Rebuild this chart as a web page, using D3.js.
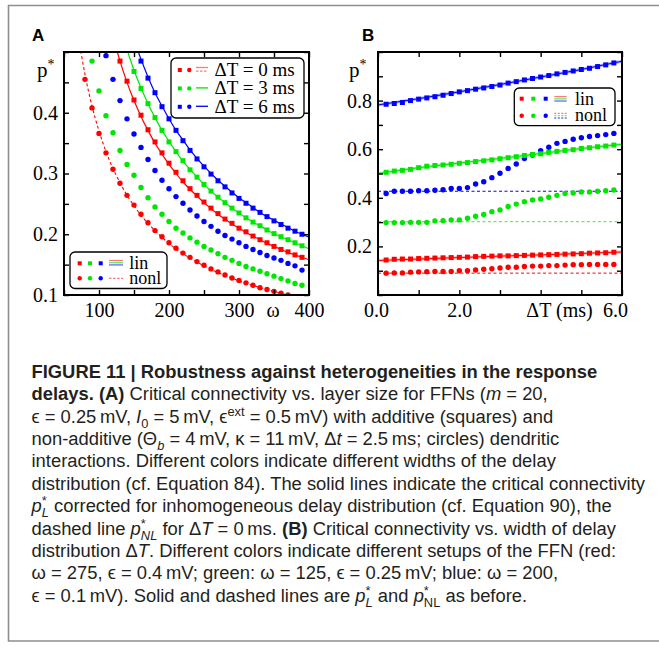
<!DOCTYPE html>
<html><head><meta charset="utf-8">
<script src="https://cdn.jsdelivr.net/npm/d3@7"></script>
<style>body{margin:0;background:#fff}svg{display:block}</style>
</head><body>
<svg id="fig" width="659" height="652"></svg>
<script>
// ---------------- Panel A data (omega vs p*) ----------------
const wLinRed   = [130,140,150,160,170,180,190,200,210,220,230,240,250,260,270,280,290,300,310,320,330,340,350,360,370,380,390];
const pLinRed   = [0.485,0.452,0.421,0.396,0.372,0.352,0.334,0.317,0.302,0.288,0.275,0.264,0.253,0.243,0.234,0.225,0.218,0.210,0.204,0.197,0.191,0.186,0.180,0.175,0.171,0.166,0.162];
const wLinGreen = [150,160,170,180,190,200,210,220,230,240,250,260,270,280,290,300,310,320,330,340,350,360,370,380,390];
const pLinGreen = [0.468,0.440,0.415,0.392,0.371,0.352,0.336,0.321,0.306,0.294,0.282,0.271,0.261,0.252,0.243,0.235,0.227,0.220,0.214,0.207,0.201,0.196,0.191,0.186,0.181];
const wLinBlue  = [160,170,180,190,200,210,220,230,240,250,260,270,280,290,300,310,320,330,340,350,360,370,380,390];
const pLinBlue  = [0.485,0.457,0.433,0.410,0.390,0.371,0.354,0.338,0.324,0.311,0.299,0.288,0.278,0.268,0.259,0.251,0.243,0.236,0.229,0.222,0.216,0.210,0.205,0.200];
const wNonRed   = [80,90,100,110,120,130,140,150,160,170,180,190,200,210,220,230,240,250,260,270,280,290,300,310,320,330,340,350,360,370];
const pNonRed   = [0.455,0.408,0.366,0.334,0.307,0.284,0.264,0.248,0.233,0.219,0.206,0.196,0.186,0.177,0.169,0.162,0.155,0.149,0.143,0.138,0.133,0.128,0.124,0.120,0.116,0.112,0.109,0.106,0.103,0.100];
const wNonGreen = [90,100,110,120,130,140,150,160,170,180,190,200,210,220,230,240,250,260,270,280,290,300,310,320,330,340,350,360,370,380,390];
const pNonGreen = [0.485,0.436,0.395,0.367,0.338,0.315,0.297,0.277,0.260,0.245,0.233,0.221,0.210,0.202,0.194,0.187,0.180,0.174,0.168,0.162,0.157,0.152,0.147,0.143,0.139,0.135,0.131,0.127,0.123,0.119,0.116];
const wNonBlue  = [110,120,130,140,150,160,170,180,190,200,210,220,230,240,250,260,270,280,290,300,310,320,330,340,350,360,370,380,390];
const pNonBlue  = [0.494,0.455,0.420,0.390,0.365,0.343,0.323,0.305,0.289,0.275,0.262,0.251,0.240,0.230,0.221,0.213,0.205,0.198,0.192,0.186,0.180,0.175,0.170,0.165,0.161,0.157,0.152,0.148,0.141];
// theory curves, panel A
const wCurveRed   = [120,130,140,150,160,170,180,190,200,210,220,230,240,250,260,270,280,290,300,310,320,330,340,350,360,370,380,390,400];
const pCurveRed   = [0.525,0.485,0.450,0.420,0.394,0.371,0.350,0.332,0.315,0.300,0.286,0.274,0.263,0.252,0.242,0.233,0.225,0.217,0.210,0.203,0.197,0.191,0.185,0.180,0.175,0.170,0.166,0.162,0.158];
const wCurveGreen = [140,150,160,170,180,190,200,210,220,230,240,250,260,270,280,290,300,310,320,330,340,350,360,370,380,390,400];
const pCurveGreen = [0.504,0.470,0.441,0.415,0.392,0.371,0.353,0.336,0.320,0.307,0.294,0.282,0.271,0.261,0.252,0.243,0.235,0.227,0.220,0.214,0.207,0.201,0.196,0.191,0.186,0.181,0.176];
const wCurveBlue  = [150,160,170,180,190,200,210,220,230,240,250,260,270,280,290,300,310,320,330,340,350,360,370,380,390,400];
const pCurveBlue  = [0.520,0.488,0.459,0.433,0.411,0.390,0.371,0.355,0.339,0.325,0.312,0.300,0.289,0.279,0.269,0.260,0.252,0.244,0.236,0.229,0.223,0.217,0.211,0.205,0.200,0.195];
const wCurveNonl  = [70,80,90,100,110,120,130,140,150,160,170,180,190,200,210,220,230,240,250,260,270,280,290,300,310,320,330,340,350,360,370,380];
const pCurveNonl  = [0.529,0.463,0.411,0.370,0.336,0.308,0.285,0.264,0.247,0.231,0.218,0.206,0.195,0.185,0.176,0.168,0.161,0.154,0.148,0.142,0.137,0.132,0.128,0.123,0.119,0.116,0.112,0.109,0.106,0.103,0.100,0.097];
const xTicksA  = [50,100,150,200,250,300,350,400];
const xLabelsA = ["","100","","200","","300","","400"];
const yTicksA  = [0.1,0.15,0.2,0.25,0.3,0.35,0.4,0.45,0.5];
const yLabelsA = ["0.1","","0.2","","0.3","","0.4","",""];

// ---------------- Panel B data (Delta T vs p*) ----------------
const dtB = [0.2,0.4,0.6,0.8,1.0,1.2,1.4,1.6,1.8,2.0,2.2,2.4,2.6,2.8,3.0,3.2,3.4,3.6,3.8,4.0,4.2,4.4,4.6,4.8,5.0,5.2,5.4,5.6,5.8];
const bLinRed   = [0.144,0.147,0.148,0.148,0.150,0.151,0.152,0.153,0.154,0.155,0.156,0.158,0.159,0.160,0.161,0.161,0.162,0.163,0.164,0.165,0.166,0.167,0.168,0.169,0.170,0.172,0.173,0.174,0.176];
const bNonRed   = [0.090,0.091,0.091,0.094,0.095,0.096,0.097,0.097,0.097,0.100,0.100,0.103,0.106,0.108,0.111,0.114,0.114,0.117,0.119,0.119,0.121,0.121,0.123,0.125,0.125,0.126,0.126,0.126,0.126];
const bLinGreen = [0.505,0.510,0.513,0.517,0.524,0.530,0.533,0.535,0.538,0.542,0.545,0.549,0.552,0.556,0.561,0.565,0.569,0.574,0.578,0.581,0.587,0.591,0.595,0.598,0.603,0.606,0.610,0.613,0.617];
const bNonGreen = [0.298,0.298,0.298,0.299,0.299,0.299,0.305,0.306,0.309,0.309,0.316,0.324,0.331,0.343,0.350,0.364,0.374,0.384,0.391,0.395,0.402,0.410,0.418,0.420,0.424,0.424,0.427,0.429,0.432];
const bLinBlue  = [0.785,0.788,0.792,0.800,0.806,0.811,0.816,0.822,0.829,0.836,0.841,0.847,0.852,0.858,0.864,0.872,0.878,0.885,0.891,0.897,0.903,0.910,0.916,0.922,0.928,0.933,0.940,0.947,0.955];
const bNonBlue  = [0.418,0.427,0.427,0.427,0.429,0.429,0.431,0.433,0.438,0.438,0.442,0.457,0.466,0.483,0.501,0.521,0.539,0.562,0.576,0.594,0.608,0.624,0.632,0.641,0.647,0.652,0.656,0.660,0.665];
const dtCurve   = [0,1,2,3,4,5,6];
const cLinRed   = [0.142,0.148,0.154,0.160,0.165,0.171,0.177];
const cLinGreen = [0.500,0.524,0.543,0.562,0.582,0.603,0.620];
const cLinBlue  = [0.782,0.808,0.836,0.866,0.897,0.928,0.962];
const dtFlat    = [0,6];
const cNonRed   = [0.090,0.090];
const cNonGreen = [0.302,0.302];
const cNonBlue  = [0.427,0.427];
const xTicksB  = [0,1,2,3,4,5,6];
const xLabelsB = ["0.0","","2.0","","","","6.0"];
const yTicksB  = [0,0.1,0.2,0.3,0.4,0.5,0.6,0.7,0.8,0.9,1.0];
const yLabelsB = ["","","0.2","","0.4","","0.6","","0.8","",""];

// ---------------- Caption ----------------
// kinds: n normal, b bold, i italic, sup, sub, subi (italic sub), *Back = placed under the preceding superscript
const caption = [
  [["b","FIGURE 11 | Robustness against heterogeneities in the response"]],
  [["b","delays. (A)"],["n"," Critical connectivity vs. layer size for FFNs ("],["i","m"],["n"," = 20,"]],
  [["n","\u03f5 = 0.25\u2009mV, "],["i","I"],["sub","0"],["n"," = 5\u2009mV, \u03f5"],["sup","ext"],["n"," = 0.5\u2009mV) with additive (squares) and"]],
  [["n","non-additive (\u0398"],["subi","b"],["n"," = 4\u2009mV, \u03ba = 11\u2009mV, \u0394"],["i","t"],["n"," = 2.5\u2009ms; circles) dendritic"]],
  [["n","interactions. Different colors indicate different widths of the delay"]],
  [["n","distribution (cf. Equation 84). The solid lines indicate the critical connectivity"]],
  [["i","p"],["sup","*"],["subiBack","L"],["n"," corrected for inhomogeneous delay distribution (cf. Equation 90), the"]],
  [["n","dashed line "],["i","p"],["sup","*"],["subiBack","NL"],["n"," for \u0394"],["i","T"],["n"," = 0\u2009ms. "],["b","(B)"],["n"," Critical connectivity vs. width of delay"]],
  [["n","distribution \u0394"],["i","T"],["n",". Different colors indicate different setups of the FFN (red:"]],
  [["n","\u03c9 = 275, \u03f5 = 0.4\u2009mV; green: \u03c9 = 125, \u03f5 = 0.25\u2009mV; blue: \u03c9 = 200,"]],
  [["n","\u03f5 = 0.1\u2009mV). Solid and dashed lines are "],["i","p"],["sup","*"],["subiBack","L"],["n"," and "],["i","p"],["sup","*"],["subBack","NL"],["n","  as before."]]
];

const RED = "#ff0000", GREEN = "#00e600", BLUE = "#0000ff";
const LRED = "#ff7a7a", LGREEN = "#66ee66", LBLUE = "#6a6aff";
const SERIF = "'Liberation Serif','Times New Roman',serif";
const SANS = "'Liberation Sans',Arial,sans-serif";

const svg = d3.select("#fig");
svg.append("rect").attr("width",659).attr("height",652).attr("fill","#fff");
// outer frame
svg.append("path").attr("d","M659,5.5 H8.5 V641 H659").attr("fill","none").attr("stroke","#8e8e8e").attr("stroke-width",1.6);

function drawAxes(g, x, y, xt, xl, yt, yl) {
  const st = sel => { sel.select(".domain").remove();
    sel.selectAll(".tick line").attr("stroke","#000").attr("stroke-width",1.4);
    sel.selectAll("text").attr("font-family",SERIF).attr("font-size",20).attr("fill","#000"); };
  const [x0,x1] = x.range(), [y0,y1] = y.range();
  g.append("g").attr("transform",`translate(0,${y0})`).call(d3.axisBottom(x).tickValues(xt).tickSize(-5).tickPadding(8).tickFormat((d,i)=>xl[i])).call(st);
  g.append("g").attr("transform",`translate(0,${y1})`).call(d3.axisTop(x).tickValues(xt).tickSize(-5).tickFormat("")).call(st);
  g.append("g").attr("transform",`translate(${x0},0)`).call(d3.axisLeft(y).tickValues(yt).tickSize(-5).tickPadding(6).tickFormat((d,i)=>yl[i])).call(st);
  g.append("g").attr("transform",`translate(${x1},0)`).call(d3.axisRight(y).tickValues(yt).tickSize(-5).tickFormat("")).call(st);
  g.append("rect").attr("x",x0).attr("y",y1).attr("width",x1-x0).attr("height",y0-y1)
    .attr("fill","none").attr("stroke","#000").attr("stroke-width",2);
}
function clip(id, x, y) {
  const [x0,x1] = x.range(), [y0,y1] = y.range();
  svg.append("clipPath").attr("id",id).append("rect").attr("x",x0).attr("y",y1).attr("width",x1-x0).attr("height",y0-y1);
}
function curve(g, x, y, xs, ys, color, opts={}) {
  const line = d3.line().x((d,i)=>x(xs[i])).y(d=>y(d)).curve(d3.curveMonotoneX);
  if (opts.halo) g.append("path").attr("d",line(ys)).attr("fill","none").attr("stroke",opts.halo).attr("stroke-width",3).attr("opacity",0.55);
  g.append("path").attr("d",line(ys)).attr("fill","none").attr("stroke",color)
   .attr("stroke-width",opts.w||1.2).attr("stroke-dasharray",opts.dash||null);
}
function squares(g, x, y, xs, ys, color, s=5) {
  g.append("g").selectAll("rect").data(ys).join("rect")
   .attr("x",(d,i)=>x(xs[i])-s/2).attr("y",d=>y(d)-s/2).attr("width",s).attr("height",s).attr("fill",color);
}
function circles(g, x, y, xs, ys, color, r=2.7) {
  g.append("g").selectAll("circle").data(ys).join("circle")
   .attr("cx",(d,i)=>x(xs[i])).attr("cy",d=>y(d)).attr("r",r).attr("fill",color);
}
function pstar(x, yb) {
  const t = svg.append("text").attr("x",x).attr("y",yb).attr("font-family",SERIF).attr("font-size",21);
  t.append("tspan").text("p");
  t.append("tspan").attr("dy",-8).attr("font-size",14).text("*");
}
function panelLabel(txt, x, y) {
  svg.append("text").attr("x",x).attr("y",y).attr("font-family",SANS).attr("font-weight","bold").attr("font-size",17).text(txt);
}
function legText(g, x, y, txt, fs=19) {
  g.append("text").attr("x",x).attr("y",y).attr("font-family",SERIF).attr("font-size",fs).text(txt);
}
function hline(g, x1, x2, y, color, dash) {
  g.append("line").attr("x1",x1).attr("x2",x2).attr("y1",y).attr("y2",y).attr("stroke",color).attr("stroke-width",1.3).attr("stroke-dasharray",dash||null);
}
function box(g, x, y, w, h) {
  g.append("rect").attr("x",x).attr("y",y).attr("width",w).attr("height",h).attr("rx",5)
   .attr("fill","#fff").attr("stroke","#000").attr("stroke-width",1.3);
}

// ================= Panel A =================
const xA = d3.scaleLinear().domain([50,400]).range([64,309]);
const yA = d3.scaleLinear().domain([0.1,0.5]).range([295,52]);
clip("clipA", xA, yA);
const gA = svg.append("g");
const dA = gA.append("g").attr("clip-path","url(#clipA)");
curve(dA, xA, yA, wCurveNonl, pCurveNonl, RED, {dash:"3,2.5", w:1.1});
curve(dA, xA, yA, wCurveRed, pCurveRed, RED);
curve(dA, xA, yA, wCurveGreen, pCurveGreen, GREEN);
curve(dA, xA, yA, wCurveBlue, pCurveBlue, BLUE);
circles(dA, xA, yA, wNonRed, pNonRed, RED);
circles(dA, xA, yA, wNonGreen, pNonGreen, GREEN);
circles(dA, xA, yA, wNonBlue, pNonBlue, BLUE);
squares(dA, xA, yA, wLinRed, pLinRed, RED);
squares(dA, xA, yA, wLinGreen, pLinGreen, GREEN);
squares(dA, xA, yA, wLinBlue, pLinBlue, BLUE);
drawAxes(gA, xA, yA, xTicksA, xLabelsA, yTicksA, yLabelsA);
gA.append("text").attr("x",273).attr("y",317).attr("text-anchor","middle").attr("font-family",SERIF).attr("font-size",20).text("\u03c9");
pstar(37, 77);
panelLabel("A", 32, 41);
// legend A top
const lgA = svg.append("g");
box(lgA, 171, 58, 133, 60);
[[RED,LRED,"\u0394T = 0 ms"],[GREEN,GREEN,"\u0394T = 3 ms"],[BLUE,BLUE,"\u0394T = 6 ms"]].forEach((r,i)=>{
  const cy = 70 + i*18.4;
  lgA.append("rect").attr("x",177.8).attr("y",cy-2).attr("width",4).attr("height",4).attr("fill",r[0]);
  lgA.append("circle").attr("cx",189.3).attr("cy",cy).attr("r",2.2).attr("fill",r[0]);
  if (i===0) { hline(lgA,196,208,cy-2.5,r[1]); hline(lgA,196,208,cy+1.2,r[1],"2.5,1.5"); }
  else hline(lgA,196,208,cy-0.5,r[0]);
  legText(lgA, 214.5, cy+5.8, r[2]);
});
// legend A bottom
const lgA2 = svg.append("g");
box(lgA2, 70, 252, 97, 36.5);
[RED,GREEN,BLUE].forEach((c,i)=>{
  const cx = [79.7,90,100.7][i];
  lgA2.append("rect").attr("x",cx-2).attr("y",261.3).attr("width",4).attr("height",4).attr("fill",c);
  lgA2.append("circle").attr("cx",cx).attr("cy",278.3).attr("r",2.2).attr("fill",c);
});
hline(lgA2,109,123,260.5,LRED); hline(lgA2,109,123,262.7,LGREEN); hline(lgA2,109,123,264.9,LBLUE);
hline(lgA2,109,123,278.3,LRED,"2.5,1.5");
legText(lgA2,129.3,268.5,"lin",18);
legText(lgA2,129.3,283.5,"nonl",18);

// ================= Panel B =================
const xB = d3.scaleLinear().domain([0,6]).range([378,622]);
const yB = d3.scaleLinear().domain([0,1]).range([295,52]);
clip("clipB", xB, yB);
const gB = svg.append("g");
const dB = gB.append("g").attr("clip-path","url(#clipB)");
curve(dB, xB, yB, dtFlat, cNonRed, RED, {dash:"3,2.5", w:1});
curve(dB, xB, yB, dtFlat, cNonGreen, LGREEN, {dash:"3,2.5", w:1.2});
curve(dB, xB, yB, dtFlat, cNonBlue, BLUE, {dash:"3,2.5", w:1});
curve(dB, xB, yB, dtCurve, cLinRed, RED, {halo:LRED, w:1});
curve(dB, xB, yB, dtCurve, cLinGreen, GREEN, {halo:LGREEN, w:1});
curve(dB, xB, yB, dtCurve, cLinBlue, BLUE, {halo:LBLUE, w:1});
circles(dB, xB, yB, dtB, bNonRed, RED);
circles(dB, xB, yB, dtB, bNonGreen, GREEN);
circles(dB, xB, yB, dtB, bNonBlue, BLUE);
squares(dB, xB, yB, dtB, bLinRed, RED);
squares(dB, xB, yB, dtB, bLinGreen, GREEN);
squares(dB, xB, yB, dtB, bLinBlue, BLUE);
drawAxes(gB, xB, yB, xTicksB, xLabelsB, yTicksB, yLabelsB);
gB.selectAll("g text").filter(function(){return this.textContent==="6.0";}).attr("dx",-7);
gB.selectAll("g text").filter(function(){return this.textContent==="0.0";}).attr("dx",-2);
gB.append("text").attr("x",559.5).attr("y",317).attr("text-anchor","middle").attr("font-family",SERIF).attr("font-size",20).text("\u0394T (ms)");
pstar(349, 77);
panelLabel("B", 362, 41);
const lgB = svg.append("g");
box(lgB, 514.3, 88, 100.7, 37.7);
[RED,GREEN,BLUE].forEach((c,i)=>{
  const cx = [521.7,533.3,545.7][i];
  lgB.append("rect").attr("x",cx-2).attr("y",96.7).attr("width",4).attr("height",4).attr("fill",c);
  lgB.append("circle").attr("cx",cx).attr("cy",115.7).attr("r",2.2).attr("fill",c);
});
hline(lgB,554.3,566.7,96.6,LRED); hline(lgB,554.3,566.7,98.8,LGREEN); hline(lgB,554.3,566.7,101,LBLUE);
hline(lgB,554.3,566.7,113.4,LRED,"2,1.5"); hline(lgB,554.3,566.7,115.7,LGREEN,"2,1.5"); hline(lgB,554.3,566.7,118,LBLUE,"2,1.5");
legText(lgB,575,104.5,"lin",18);
legText(lgB,575,120.5,"nonl",18);

// ================= Caption =================
const capG = svg.append("g").attr("font-family",SANS).attr("fill","#231f20");
function renderCaption(fs) {
  capG.selectAll("*").remove();
  const nodes = [];
  caption.forEach((segs, li) => {
    const t = capG.append("text").attr("x",31.5).attr("y",377.7 + li*22.4).attr("font-size",fs);
    let shift = 0, prev = null;
    segs.forEach(([k, s]) => {
      const ts = t.append("tspan").text(s);
      let target = 0;
      const isSub = k.startsWith("sub");
      if (k === "b") ts.attr("font-weight","bold");
      if (k === "i") ts.attr("font-style","italic");
      if (k === "sup") { target = -0.38*fs; ts.attr("font-size",fs*0.7); }
      if (isSub) {
        target = 0.28*fs; ts.attr("font-size",fs*0.7);
        if (k.startsWith("subi")) ts.attr("font-style","italic");
        if (k.endsWith("Back") && prev) ts.attr("dx", -prev.node().getComputedTextLength());
      }
      if (target !== shift) ts.attr("dy", target - shift);
      shift = target; prev = ts;
    });
    nodes.push(t);
  });
  return nodes;
}
let nodes = renderCaption(16);
const w6 = nodes[5].node().getComputedTextLength();
renderCaption(16 * 614 / w6);
</script>
</body></html>
